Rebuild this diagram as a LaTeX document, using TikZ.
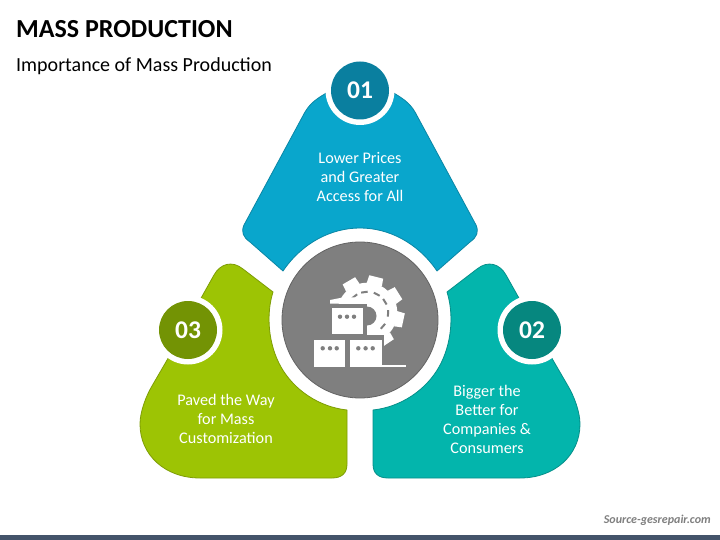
\documentclass[tikz,border=0pt]{standalone}
\usepackage{fontspec}
\usetikzlibrary{calc}
\setmainfont{Carlito}
\definecolor{cblue}{HTML}{09A6CC}
\definecolor{eblue}{HTML}{0A86A5}
\definecolor{dblue}{HTML}{0A7F9F}
\definecolor{cteal}{HTML}{03B5AC}
\definecolor{eteal}{HTML}{06908A}
\definecolor{dteal}{HTML}{06877F}
\definecolor{cgreen}{HTML}{9DC404}
\definecolor{egreen}{HTML}{7E9D05}
\definecolor{dgreen}{HTML}{739304}
\definecolor{cgray}{HTML}{7F7F7F}
\definecolor{egray}{HTML}{636363}
\definecolor{cbar}{HTML}{44546A}
\definecolor{csrc}{HTML}{7F7F7F}
\tikzset{
  x=1pt,y=-1pt,
  petal/.style={line width=0.8pt,line join=round},
  numdisc/.style={circle,minimum size=58pt,inner sep=0pt,text=white,font=\fontsize{25.5}{25.5}\selectfont\bfseries},
  ring/.style={circle,fill=white,minimum size=69pt,inner sep=0pt},
  petaltext/.style={align=center,text=white,font=\fontsize{16.2}{19}\selectfont,inner sep=0pt},
  ico/.style={fill=white,draw=none},
  mask/.style={fill=cgray,draw=none},
  dashmark/.style={draw=cgray,line width=2pt},
  icondot/.style={fill=cgray,draw=none}
}
\begin{document}
\begin{tikzpicture}
\useasboundingbox (0,0) rectangle (720,540);
\fill[white] (0,0) rectangle (720,540);
\fill[cbar] (0,535) rectangle (720,540);
\node[anchor=west,inner sep=0pt,font=\fontsize{26}{26}\selectfont\bfseries] (title) at (16,29) {MASS PRODUCTION};
\node[anchor=west,inner sep=0pt,font=\fontsize{20}{20}\selectfont] (sub) at (16,66) {Importance of Mass Production};
\node[anchor=east,inner sep=0pt,text=csrc,font=\fontsize{12}{12}\selectfont\bfseries\itshape] (src) at (711,520) {Source-gesrepair.com};
% blue petal
\draw[petal,fill=cblue,draw=eblue] (283,271)
  .. controls (302,243) and (331,228) .. (360,228)
  .. controls (389,228) and (418,243) .. (437,271)
  -- (470,242) .. controls (477,237) and (479,232) .. (476,225)
  -- (415,112) .. controls (409,102) and (402,98) .. (392,92)
  -- (328,92) .. controls (318,98) and (311,102) .. (305,112)
  -- (244,225) .. controls (241,232) and (243,237) .. (250,242) -- cycle;
% green petal
\draw[petal,fill=cgreen,draw=egreen] (273,292)
  .. controls (266,314) and (268,344) .. (281,367)
  .. controls (294,390) and (319,407) .. (347,410)
  -- (347,464) .. controls (347,473) and (342,478) .. (332,478)
  -- (200,478) .. controls (165,478) and (140,455) .. (140,424)
  .. controls (140,412) and (146,396) .. (152,386)
  -- (170,355) -- (200,300)
  -- (214,275) .. controls (220,264) and (232,260) .. (243,269) -- cycle;
% teal petal
\draw[petal,fill=cteal,draw=eteal] (447,292)
  .. controls (454,314) and (452,344) .. (439,367)
  .. controls (426,390) and (401,407) .. (373,410)
  -- (373,464) .. controls (373,473) and (378,478) .. (388,478)
  -- (520,478) .. controls (555,478) and (580,455) .. (580,424)
  .. controls (580,412) and (574,396) .. (568,386)
  -- (550,355) -- (520,300)
  -- (506,275) .. controls (500,264) and (488,260) .. (477,269) -- cycle;
% number discs
\node[ring] (r1) at (360,90.5) {};
\node[ring] (r2) at (532,330) {};
\node[ring] (r3) at (188,330) {};
\node[numdisc,fill=dblue] (n1) at (360,90.5) {01};
\node[numdisc,fill=dteal] (n2) at (532,330) {02};
\node[numdisc,fill=dgreen] (n3) at (188,330) {03};
% texts
\node[petaltext] (t1) at (360,177) {Lower Prices\\and Greater\\Access for All};
\node[petaltext] (t2) at (487,419) {Bigger the\\Better for\\Companies \&\\Consumers};
\node[petaltext] (t3) at (226,419) {Paved the Way\\for Mass\\Customization};
% hub
\node[circle,fill=cgray,draw=egray,line width=0.8pt,minimum size=156pt,inner sep=0pt] (hub) at (360,320) {};
% gear icon
\coordinate (gc) at (367.3,312.7);
\foreach \a in {120,76,32,-12,-56}{
  \fill[ico] ($(gc)+({30*cos(\a-15)},{-30*sin(\a-15)})$) -- ($(gc)+({37.5*cos(\a-11)},{-37.5*sin(\a-11)})$) -- ($(gc)+({37.5*cos(\a+11)},{-37.5*sin(\a+11)})$) -- ($(gc)+({30*cos(\a+15)},{-30*sin(\a+15)})$) -- cycle;
}
\fill[ico] (gc) circle[radius=30];
\foreach \a in {128,98,63,32,-2,-41}{
  \draw[dashmark] ($(gc)+({21*cos(\a-9)},{-21*sin(\a-9)})$) -- ($(gc)+({21*cos(\a+9)},{-21*sin(\a+9)})$);
}
\fill[mask] (367,316) circle[radius=9.5];
\fill[mask] (325,303.5) rectangle (367,337);
\fill[mask] (325,335) rectangle (384,372);
\fill[ico] (330,300) -- (345,297) -- (367,298) -- (367,303.5) -- (330,303.5) -- cycle;
\fill[ico] (331.7,308) rectangle (362.7,334);
\fill[ico] (314,340) rectangle (345,367);
\fill[ico] (350,340) rectangle (381.7,367);
\fill[ico] (381,364.5) rectangle (406,367);
\foreach \p in {(340,316.7),(347,316.7),(354,316.7),(322.7,348.3),(330,348.3),(336.7,348.3),(358.3,348.3),(365.6,348.3),(372.7,348.3)}{
  \fill[icondot] \p circle[radius=2.2];
}
\end{tikzpicture}
\end{document}
